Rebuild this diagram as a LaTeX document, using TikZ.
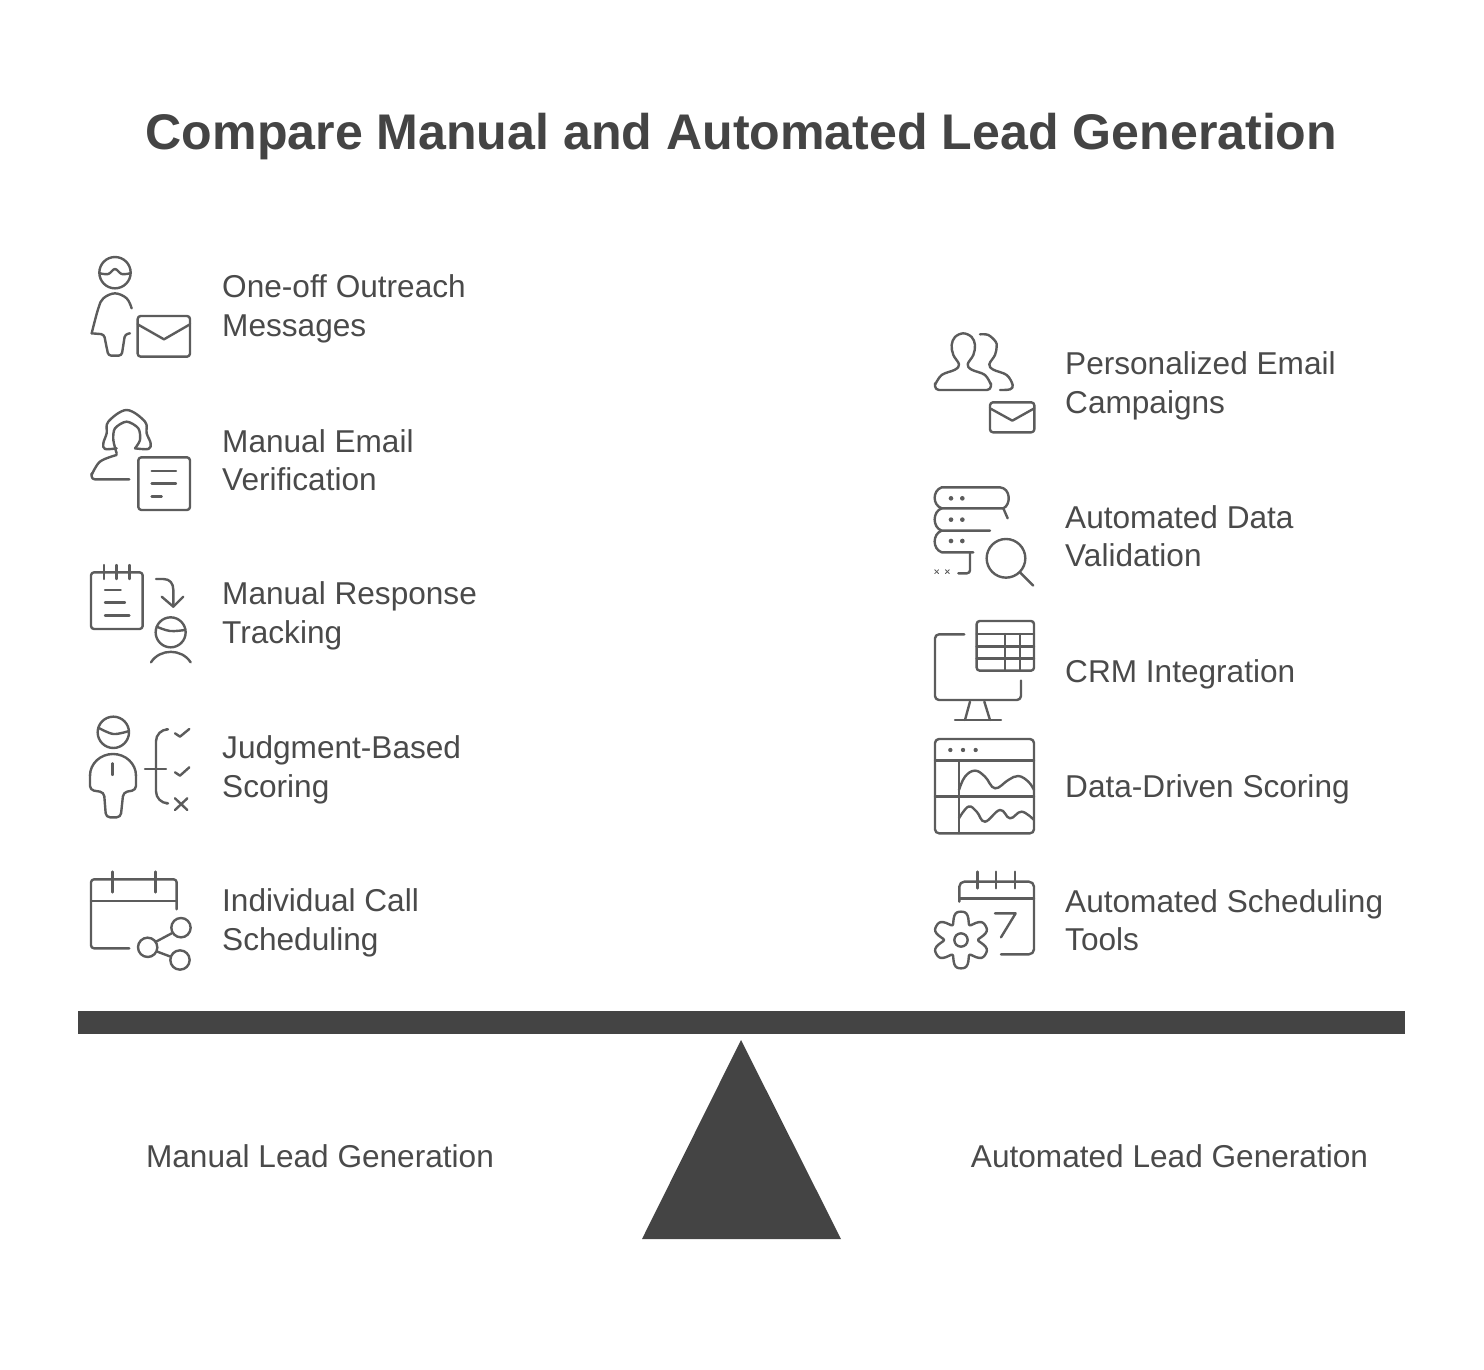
\documentclass[tikz,border=0pt]{standalone}
\usepackage{fontspec}
\setmainfont{Liberation Sans}
\definecolor{inkdark}{HTML}{444444}
\definecolor{inktext}{HTML}{4A4A4A}
\definecolor{inkline}{HTML}{5C5C5C}
\tikzset{
	icon/.style={shift={(#1)},scale=0.3333,line width=2.4pt,color=inkline,line join=round,line cap=round},
	item/.style={anchor=west,inner sep=0pt,align=left,text=inktext,font=\fontsize{31.6}{38.5}\selectfont},
	side/.style={inner sep=0pt,text=inktext,font=\fontsize{31.6}{38.5}\selectfont},
}
\begin{document}
\begin{tikzpicture}[x=1pt,y=-1pt]
	\useasboundingbox (0,0) rectangle (1484,1369);
	% title
		\node (title) [inner sep=0pt,text=inkdark,font=\fontsize{50.1}{58}\selectfont\bfseries] at (741.5,137) {Compare Manual and Automated Lead Generation};
	% left labels
		\node (outreach) [item] at (222,309) {One-off Outreach\\Messages};
		\node (verify) [item] at (222,460) {Manual Email\\Verification};
		\node (tracking) [item] at (222,616) {Manual Response\\Tracking};
		\node (judgment) [item] at (222,770) {Judgment-Based\\Scoring};
		\node (calls) [item] at (222,923) {Individual Call\\Scheduling};
	% right labels
		\node (campaigns) [item] at (1065,386) {Personalized Email\\Campaigns};
		\node (validation) [item] at (1065,536) {Automated Data\\Validation};
		\node (crm) [item] at (1065,674) {CRM Integration};
		\node (scoring) [item] at (1065,789) {Data-Driven Scoring};
		\node (tools) [item] at (1065,920) {Automated Scheduling\\Tools};
	% scale
		\fill [color=inkdark] (78,1011) rectangle (1405,1034);
		\fill [color=inkdark] (741,1040) -- (841,1239) -- (642,1239) -- cycle;
		\node (manual) [side] at (320,1156) {Manual Lead Generation};
		\node (auto) [side] at (1169.5,1156) {Automated Lead Generation};
	% person with envelope
		\begin{scope}[icon={80,245}]
			\draw (105,83) circle (47);
			\draw plot [smooth,tension=.6] coordinates {(60,85) (85,87) (105,72) (125,87) (150,85)};
			\draw plot [smooth,tension=.6] coordinates {(155,190) (140,160) (105,145) (70,160) (55,190) (35,265)};
			\draw [rounded corners=3pt] (35,265) -- (72,268) -- (85,332) -- (125,332) -- (135,268) -- (150,265);
			\draw [rounded corners=3pt] (173,213) rectangle (330,335);
			\draw (173,238) -- (252,283) -- (330,238);
		\end{scope}
	% woman with document
		\begin{scope}[icon={80,245}]
			\draw plot [smooth,tension=.6] coordinates {(110,610) (75,612) (70,595) (80,565) (85,530) (140,495) (195,530) (200,565) (212,595) (205,612) (165,610)};
			\draw plot [smooth,tension=.5] coordinates {(110,625) (100,585) (105,550) (140,530) (175,550) (180,585) (165,610)};
			\draw plot [smooth,tension=.6] coordinates {(110,630) (60,650) (35,690)};
			\draw [rounded corners=3pt] (35,685) -- (35,703) -- (148,703);
			\draw [rounded corners=3pt] (175,637) rectangle (330,795);
			\draw (215,678) -- (288,678);
			\draw (215,716) -- (288,716);
			\draw (215,755) -- (245,755);
		\end{scope}
	% notebook with arrow
		\begin{scope}[icon={80,555}]
			\draw [rounded corners=3pt] (33,52) rectangle (188,222);
			\foreach \ringx in {72,110,148}
				\draw (\ringx,30) -- (\ringx,72);
			\draw (75,105) -- (122,105);
			\draw (75,143) -- (135,143);
			\draw (75,182) -- (148,182);
			\draw (228,72) -- (250,72) .. controls (270,72) and (280,85) .. (280,105) -- (280,155);
			\draw (245,125) -- (280,155) -- (310,125);
			\draw (272,232) circle (45);
			\draw plot [smooth,tension=.6] coordinates {(230,215) (270,228) (315,225)};
			\draw (213,322) .. controls (240,280) and (305,280) .. (332,322);
		\end{scope}
	% person with checks
		\begin{scope}[icon={80,555}]
			\draw (100,532) circle (47);
			\draw plot [smooth,tension=.6] coordinates {(55,518) (100,537) (147,528)};
			\draw [rounded corners=4pt] (30,660) -- (30,705) -- (72,712) -- (78,787) -- (122,787) -- (130,712) -- (168,705) -- (168,660);
			\draw (30,662) arc (180:360:69 and 65);
			\draw (98,625) -- (98,660);
			\draw [rounded corners=12pt] (258,523) -- (228,523) -- (228,745) -- (258,745);
			\draw (195,642) -- (258,642);
			\draw (285,535) -- (300,545) -- (328,522);
			\draw (285,652) -- (300,662) -- (328,637);
			\draw (285,730) -- (322,765);
			\draw (322,730) -- (285,765);
		\end{scope}
	% calendar with share
		\begin{scope}[icon={80,860}]
			\draw [rounded corners=3pt] (148,265) -- (33,265) -- (33,58) -- (290,58) -- (290,148);
			\draw (33,123) -- (290,123);
			\draw (98,35) -- (98,97);
			\draw (226,35) -- (226,97);
			\draw (203,262) circle (29);
			\draw (303,203) circle (29);
			\draw (300,300) circle (29);
			\draw (228,245) -- (275,220);
			\draw (232,275) -- (272,290);
		\end{scope}
	% two people with envelope
		\begin{scope}[icon={925,325}]
			\draw [rounded corners=4pt] (198,175) -- (198,195) -- (30,195) -- (30,175);
			\draw plot [smooth,tension=.6] coordinates {(30,180) (50,150) (90,134) (102,118) (85,90) (80,60) (90,36) (115,25) (140,36) (150,60) (145,90) (128,118) (140,134) (180,150) (198,180)};
			\draw plot [smooth,tension=.6] coordinates {(165,28) (190,30) (212,50) (215,65) (210,90) (193,118) (205,134) (245,150) (263,180) (255,193) (225,195)};
			\draw [rounded corners=3pt] (195,232) rectangle (328,322);
			\draw (195,250) -- (262,287) -- (328,250);
		\end{scope}
	% servers with magnifier
		\begin{scope}[icon={925,325}]
			\draw (50,550) .. controls (22,540) and (22,497) .. (50,487) -- (225,487) .. controls (258,490) and (258,540) .. (235,550);
			\draw (50,550) -- (235,550) -- (248,580);
			\draw (50,550) .. controls (22,560) and (22,607) .. (50,617) -- (195,617);
			\draw (50,617) .. controls (22,627) and (22,672) .. (50,682) -- (145,682);
			\draw [rounded corners=3pt] (135,682) -- (135,745) -- (100,745);
			\foreach \doty in {520,584,648} {
				\fill (78,\doty) circle (7);
				\fill (112,\doty) circle (7);
			}
			\foreach \crossx in {35,67} {
				\draw [line width=.8pt] (\crossx-6,734) -- (\crossx+6,746);
				\draw [line width=.8pt] (\crossx+6,734) -- (\crossx-6,746);
			}
			\draw (243,700) circle (58);
			\draw (285,742) -- (325,782);
		\end{scope}
	% monitor with table
		\begin{scope}[icon={925,610}]
			\draw [rounded corners=4pt] (118,73) -- (30,73) -- (30,270) -- (288,270) -- (288,212);
			\draw (135,275) -- (120,330);
			\draw (178,275) -- (195,330);
			\draw (90,330) -- (228,330);
			\draw [rounded corners=3pt] (155,33) rectangle (327,182);
			\foreach \rowy in {72,110,145}
				\draw (155,\rowy) -- (327,\rowy);
			\draw (240,72) -- (240,182);
			\draw (285,72) -- (285,182);
		\end{scope}
	% dashboard
		\begin{scope}[icon={925,610}]
			\draw [rounded corners=4pt] (30,387) rectangle (327,670);
			\draw (30,452) -- (327,452);
			\draw (30,560) -- (327,560);
			\draw (102,452) -- (102,670);
			\foreach \dotx in {76,114,152}
				\fill (\dotx,420) circle (6.5);
			\draw plot [smooth,tension=.7] coordinates {(102,540) (120,500) (150,482) (180,500) (210,535) (250,510) (280,498) (310,515) (327,540)};
			\draw plot [smooth,tension=.7] coordinates {(102,625) (130,590) (155,605) (180,635) (225,600) (255,625) (290,605) (327,630)};
		\end{scope}
	% calendar with gear
		\begin{scope}[icon={925,860}]
			\draw [rounded corners=5pt] (103,125) -- (103,65) -- (327,65) -- (327,283) -- (228,283);
			\draw (103,115) -- (327,115);
			\foreach \tickx in {157,213,270}
				\draw (\tickx,35) -- (\tickx,85);
			\draw (210,160) -- (272,160) -- (228,232);
			\draw [shift={(108,240)}] plot [domain=0:360,samples=97,smooth] (\x:{72-17*cos(6*\x)-4*cos(12*\x)});
			\draw (108,240) circle (20);
		\end{scope}
\end{tikzpicture}
\end{document}
